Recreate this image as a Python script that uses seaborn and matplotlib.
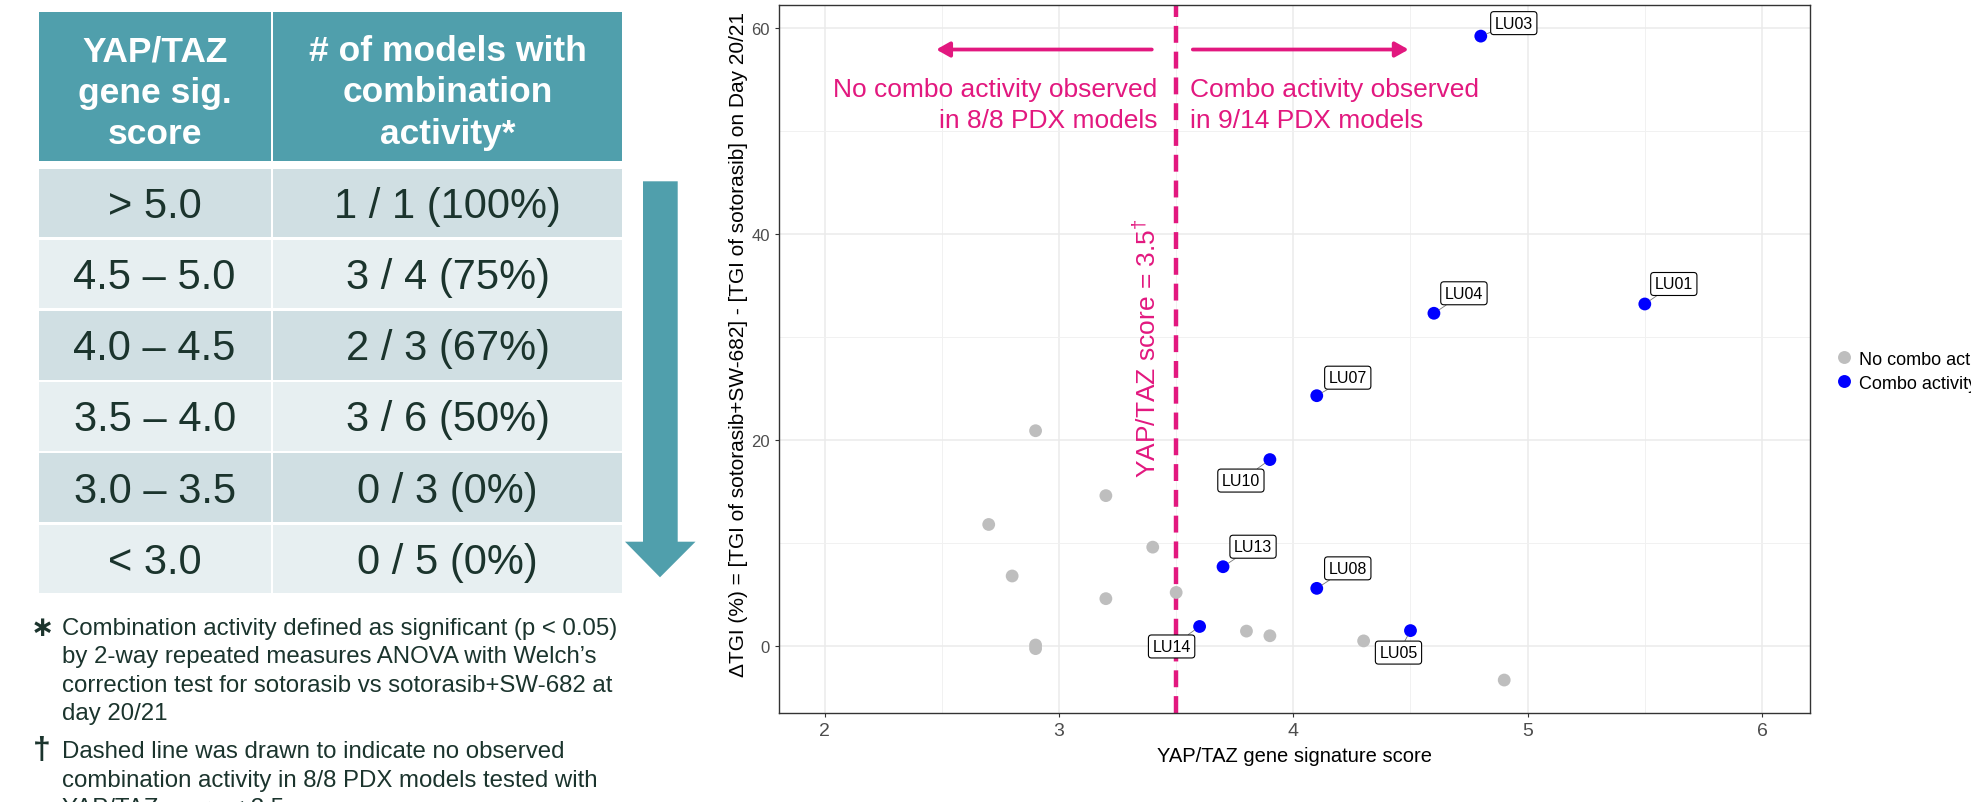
import numpy as np
import pandas as pd
import matplotlib
matplotlib.use("Agg")
import matplotlib.pyplot as plt
import seaborn as sns
from matplotlib.patches import Rectangle, Polygon

# ---------------- data ----------------
gray_score = [2.9, 2.7, 2.8, 3.2, 3.2, 3.4, 3.5, 2.9, 2.9, 3.8, 3.9, 4.3, 4.9]
gray_dtgi = [20.9, 11.8, 6.8, 14.6, 4.6, 9.6, 5.2, 0.1, -0.25, 1.45, 1.0, 0.5, -3.3]

combo_models = ["LU03", "LU01", "LU04", "LU07", "LU10", "LU13", "LU08", "LU14", "LU05"]
combo_score = [4.8, 5.5, 4.6, 4.1, 3.9, 3.7, 4.1, 3.6, 4.5]
combo_dtgi = [59.2, 33.2, 32.3, 24.3, 18.1, 7.7, 5.6, 1.9, 1.5]

group_labels = ["No combo activity", "Combo activity"]

score_bins = ["> 5.0", "4.5 \u2013 5.0", "4.0 \u2013 4.5", "3.5 \u2013 4.0", "3.0 \u2013 3.5", "< 3.0"]
n_active = [1, 3, 2, 3, 0, 0]
n_total = [1, 4, 3, 6, 3, 5]

header_left = "YAP/TAZ\ngene sig.\nscore"
header_right = "# of models with\ncombination\nactivity*"

threshold = 3.5

fn1_lines = ["Combination activity defined as significant (p < 0.05)",
             "by 2-way repeated measures ANOVA with Welch\u2019s",
             "correction test for sotorasib vs sotorasib+SW-682 at",
             "day 20/21"]
fn2_lines = ["Dashed line was drawn to indicate no observed",
             "combination activity in 8/8 PDX models tested with",
             "YAP/TAZ score < 3.5"]

# label offsets in pixels (dx right, dy up)
label_offset = {"LU03": (33, 13), "LU01": (29, 20), "LU04": (30, 20), "LU07": (31, 18),
                "LU10": (-29, -21), "LU13": (30, 20), "LU08": (31, 20), "LU14": (-28, -20),
                "LU05": (-12, -22)}

# ---------------- style ----------------
plt.rcParams["font.family"] = ["Liberation Sans", "DejaVu Sans"]
plt.rcParams["mathtext.fontset"] = "custom"
plt.rcParams["mathtext.rm"] = "Liberation Sans"

W, H = 1971, 803
fig = plt.figure(figsize=(W / 100, H / 100), dpi=100)
fig.patch.set_facecolor("white")

teal = "#509FAC"
row_dark = "#D0DFE3"
row_light = "#E7EFF1"
txt_dark = "#1B342D"
magenta = "#E2187F"

# ---------------- table (pixel canvas) ----------------
bg = fig.add_axes([0, 0, 1, 1])
bg.set_xlim(0, W)
bg.set_ylim(H, 0)
bg.axis("off")
bg.patch.set_visible(False)

cols = [(38.8, 270.5), (273.2, 622.0)]
hdr_top, hdr_bot = 13.3, 162.3
for x0, x1 in cols:
    bg.add_patch(Rectangle((x0, hdr_top), x1 - x0, hdr_bot - hdr_top, fc=teal, ec="none"))
col_cx = [(a + b) / 2 for a, b in cols]
hdr_cy = 93
bg.text(col_cx[0], hdr_cy, header_left, ha="center", va="center", color="white",
        fontsize=25.5, fontweight="bold", linespacing=1.32)
bg.text(col_cx[1], hdr_cy, header_right, ha="center", va="center", color="white",
        fontsize=25.5, fontweight="bold", linespacing=1.32)

row_top0, pitch, rh = 170.0, 71.1, 68.3
for i, (b, a, t) in enumerate(zip(score_bins, n_active, n_total)):
    top = row_top0 + i * pitch
    fc = row_dark if i % 2 == 0 else row_light
    for x0, x1 in cols:
        bg.add_patch(Rectangle((x0, top), x1 - x0, rh, fc=fc, ec="none"))
    base = top + rh / 2 + 14
    bg.text(col_cx[0], base, b, ha="center", va="baseline", color=txt_dark, fontsize=30)
    bg.text(col_cx[1], base, f"{a} / {t} ({round(100 * a / t)}%)", ha="center",
            va="baseline", color=txt_dark, fontsize=30)

# down arrow
arrow_pts = [(643, 182.3), (677.7, 182.3), (677.7, 542.7), (695.5, 542.7),
             (660, 578.3), (625, 542.7), (643, 542.7)]
bg.add_patch(Polygon(arrow_pts, closed=True, fc=teal, ec="none"))

# footnotes
for i, line in enumerate(fn1_lines):
    bg.text(62.5, 635 + 28.3 * i, line, ha="left", va="baseline", color=txt_dark, fontsize=17.3)
for i, line in enumerate(fn2_lines):
    bg.text(62.5, 758.3 + 28.3 * i, line, ha="left", va="baseline", color=txt_dark, fontsize=17.3)
bg.text(42.4, 629, "\u2217", ha="center", va="center", color=txt_dark, fontsize=20,
        fontweight="bold")
bg.text(41.3, 751, "\u2020", ha="center", va="center", color=txt_dark, fontsize=23,
        fontweight="bold")

# ---------------- scatter ----------------
ax = fig.add_axes([779 / W, 1 - 713.5 / H, (1810 - 779) / W, (713.5 - 5.7) / H])
df = pd.DataFrame({
    "score": gray_score + combo_score,
    "dtgi": gray_dtgi + combo_dtgi,
    "group": [group_labels[0]] * len(gray_score) + [group_labels[1]] * len(combo_score),
})
ax.set_facecolor("white")
ax.set_axisbelow(True)
ax.set_xlim(1.805, 6.205)
ax.set_ylim(-6.45, 62.25)
ax.set_xticks([2, 3, 4, 5, 6])
ax.set_yticks([0, 20, 40, 60])
ax.set_xticks(np.arange(2.5, 6.0, 1.0), minor=True)
ax.set_yticks([10, 30, 50], minor=True)
ax.grid(which="major", color="#EBEBEB", lw=1.1)
ax.grid(which="minor", color="#F1F1F1", lw=0.7)
ax.tick_params(which="minor", length=0)
ax.tick_params(which="major", direction="out", length=3, width=0.8, color="#333333",
               labelcolor="#4D4D4D", pad=3.5)
ax.tick_params(axis="x", labelsize=14)
ax.tick_params(axis="y", labelsize=12)
for sp in ax.spines.values():
    sp.set_color("#333333")
    sp.set_linewidth(1.0)

ax.axvline(threshold, color=magenta, lw=3.2, ls=(0, (3.8, 2.0)), zorder=2)

sns.scatterplot(data=df, x="score", y="dtgi", hue="group", hue_order=group_labels,
                palette={group_labels[0]: "#BEBEBE", group_labels[1]: "#0000FF"},
                s=85, linewidth=0, ax=ax, zorder=3, legend=True)

for name, x, y in zip(combo_models, combo_score, combo_dtgi):
    dx, dy = label_offset[name]
    ax.annotate(name, xy=(x, y), xytext=(dx, dy), textcoords="offset pixels",
                ha="center", va="center", fontsize=11.5, color="black", zorder=5,
                bbox=dict(boxstyle="round,pad=0.25,rounding_size=0.2", fc="white",
                          ec="black", lw=0.8),
                arrowprops=dict(arrowstyle="-", color="#777777", lw=0.6,
                                shrinkA=0, shrinkB=4.5))

# annotations for threshold
ax.annotate("", xy=(2.476, 57.9), xytext=(3.396, 57.9),
            arrowprops=dict(arrowstyle="-|>,head_length=0.8,head_width=0.45",
                            color=magenta, lw=2.7, shrinkA=0, shrinkB=0))
ax.annotate("", xy=(4.492, 57.9), xytext=(3.571, 57.9),
            arrowprops=dict(arrowstyle="-|>,head_length=0.8,head_width=0.45",
                            color=magenta, lw=2.7, shrinkA=0, shrinkB=0))
ax.text(3.421, 52.55, "No combo activity observed\nin 8/8 PDX models", ha="right",
        va="center", color=magenta, fontsize=19, linespacing=1.37)
ax.text(3.558, 52.55, "Combo activity observed\nin 9/14 PDX models", ha="left",
        va="center", color=magenta, fontsize=19, linespacing=1.37)
ax.text(3.378, 29.0, "YAP/TAZ score = 3.5$^{\\dagger}$", rotation=90, ha="center",
        va="center", color=magenta, fontsize=19)

ax.set_xlabel("YAP/TAZ gene signature score", fontsize=14.5, color="black", va="top")
ax.xaxis.set_label_coords(0.5, -0.047)
ax.set_ylabel("\u0394TGI (%) = [TGI of sotorasib+SW-682] - [TGI of sotorasib] on Day 20/21",
              fontsize=15, color="black", va="center")
ax.yaxis.set_label_coords(-0.0388, 0.522)

sns.move_legend(ax, "center left", bbox_to_anchor=(1836.0 / W, 1 - 372.2 / H),
                bbox_transform=fig.transFigure, frameon=False, title="", fontsize=13,
                handlelength=0.9, handletextpad=0.35, labelspacing=0.38,
                borderpad=0, borderaxespad=0)
for h in ax.get_legend().legend_handles:
    h.set_markersize(9.3)

fig.savefig("out.png", dpi=100)
